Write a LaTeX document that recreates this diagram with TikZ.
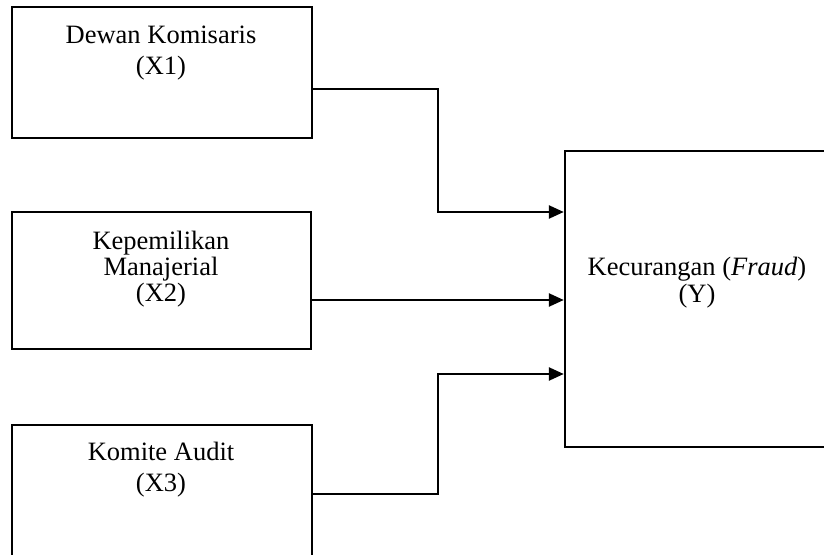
\documentclass[tikz,border=0pt]{standalone}
\usepackage{fontspec}
\setmainfont{Liberation Serif}
\usetikzlibrary{arrows.meta}
\begin{document}
\begin{tikzpicture}[x=1pt,y=-1pt,
  boxstyle/.style={draw=black,line width=2.4pt,inner sep=0pt},
  txt/.style={anchor=base,inner sep=0pt,font=\fontsize{26.5}{28}\selectfont},
  conn/.style={draw=black,line width=2.4pt,-{Triangle[length=15pt,width=13pt]}}]
\useasboundingbox (0,0) rectangle (824,554);
% boxes
\node[boxstyle,minimum width=300pt,minimum height=131pt] (x1) at (162,72.5) {};
\node[boxstyle,minimum width=299pt,minimum height=137pt] (x2) at (161.5,280.5) {};
\node[boxstyle,minimum width=300pt,minimum height=140pt] (x3) at (162,495) {};
\node[boxstyle,minimum width=265pt,minimum height=296pt] (y) at (697.5,299) {};
% texts
\node[txt] (t1a) at (161,43) {Dewan Komisaris};
\node[txt] (t1b) at (161,74) {(X1)};
\node[txt] (t2a) at (161,249) {Kepemilikan};
\node[txt] (t2b) at (161,275) {Manajerial};
\node[txt] (t2c) at (161,301) {(X2)};
\node[txt] (t3a) at (161,460) {Komite Audit};
\node[txt] (t3b) at (161,491) {(X3)};
\node[txt] (tya) at (697,275) {Kecurangan (\textit{Fraud})};
\node[txt] (tyb) at (697,302) {(Y)};
% connectors
\coordinate (e1) at (438,89);
\coordinate (e3) at (438,494);
\draw[conn] (x1.east |- e1) -- (e1) |- (y.west |- 0,212);
\draw[conn] (x2.east |- 0,300) -- (y.west |- 0,300);
\draw[conn] (x3.east |- e3) -- (e3) |- (y.west |- 0,374);
\end{tikzpicture}
\end{document}
